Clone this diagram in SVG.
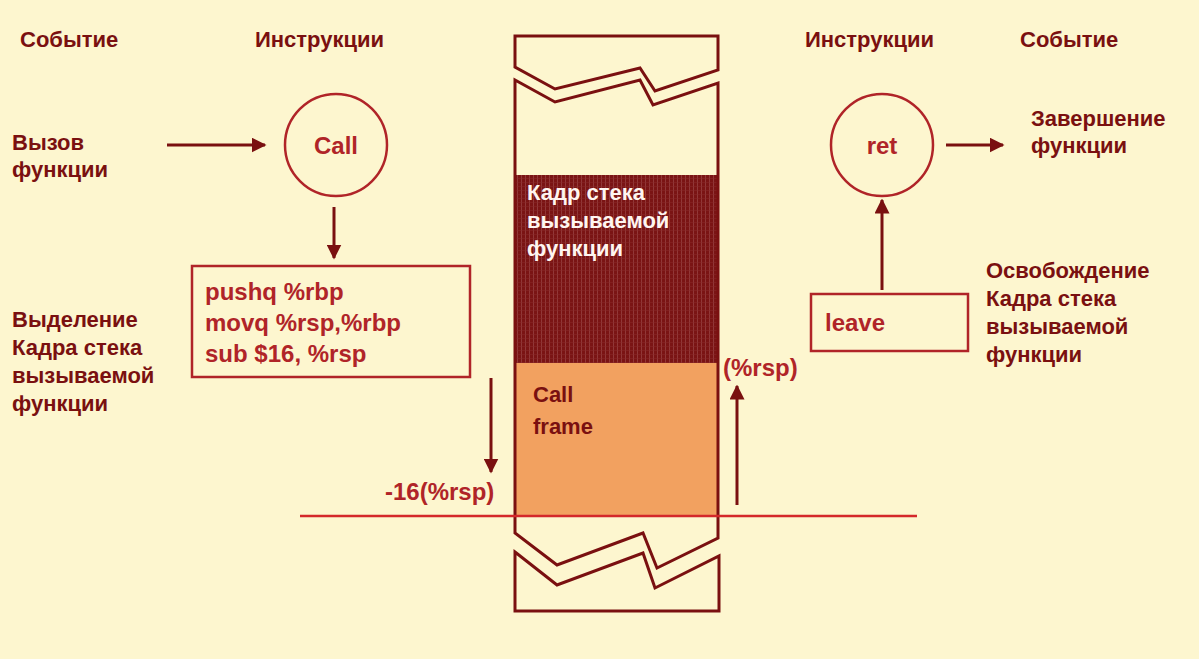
<svg xmlns="http://www.w3.org/2000/svg" width="1199" height="659" viewBox="0 0 1199 659">
<style>
.ev{font-family:"Liberation Sans",Arial,sans-serif;font-weight:bold;font-size:22px;fill:#7a1010}
.in{font-family:"Liberation Sans",Arial,sans-serif;font-weight:bold;font-size:24px;fill:#b02428}
.ln{fill:none;stroke:#7a1010;stroke-width:3}
.bx{fill:none;stroke:#b02428;stroke-width:2.5}
.ar{stroke:#7a1010;stroke-width:3;fill:none;marker-end:url(#ah)}
</style>
<defs>
<marker id="ah" viewBox="0 0 10 10" refX="9" refY="5" markerWidth="5" markerHeight="5" orient="auto" markerUnits="strokeWidth">
<path d="M0,0L10,5L0,10z" fill="#7a1010"/>
</marker>
<pattern id="hatch" width="4" height="4" patternUnits="userSpaceOnUse">
<rect width="4" height="4" fill="#7a1414"/>
<rect x="1" width="1" height="4" fill="#a05050" opacity="0.6"/>
<rect y="2" width="4" height="1" fill="#8a2a2a" opacity="0.5"/>
</pattern>
</defs>
<rect width="1199" height="659" fill="#fdf6cf"/>
<g id="headers">
<text class="ev" x="20" y="47">Событие</text>
<text class="ev" x="255" y="47">Инструкции</text>
<text class="ev" x="805" y="47">Инструкции</text>
<text class="ev" x="1020" y="47">Событие</text>
</g>
<g id="stack">
<rect x="516" y="175" width="202" height="188" fill="url(#hatch)"/>
<rect x="516" y="363" width="202" height="153" fill="#f2a160"/>
<path class="ln" d="M515,67V36H718V70L655,91L640,68L555,89Z"/>
<path class="ln" d="M515,533V80L555,102L640,80L653,105L718,83V538L657,568L643,533L557,565Z"/>
<path class="ln" d="M515,552L557,585L643,553L655,588L719,556V611H515Z"/>
<text x="527" y="200" font-family="Liberation Sans,Arial,sans-serif" font-weight="bold" font-size="22" fill="#fff5f0">Кадр стека</text>
<text x="527" y="228" font-family="Liberation Sans,Arial,sans-serif" font-weight="bold" font-size="22" fill="#fff5f0">вызываемой</text>
<text x="527" y="256" font-family="Liberation Sans,Arial,sans-serif" font-weight="bold" font-size="22" fill="#fff5f0">функции</text>
<text class="ev" x="533" y="402" font-size="25">Call</text>
<text class="ev" x="533" y="434" font-size="25">frame</text>
</g>
<g id="call-event"><text class="ev" x="12" y="150">Вызов</text><text class="ev" x="12" y="177">функции</text></g>
<g id="call"><circle cx="336" cy="145" r="51" class="bx"/><text class="in" x="336" y="154" text-anchor="middle">Call</text></g>
<g id="prologue"><rect x="192" y="266" width="278" height="111" class="bx"/>
<text class="in" x="205" y="300">pushq   %rbp</text>
<text class="in" x="205" y="331">movq  %rsp,%rbp</text>
<text class="in" x="205" y="362">sub $16, %rsp</text></g>
<g id="alloc-event"><text class="ev" x="12" y="327">Выделение</text><text class="ev" x="12" y="355">Кадра стека</text><text class="ev" x="12" y="383">вызываемой</text><text class="ev" x="12" y="411">функции</text></g>
<g id="ret"><circle cx="882" cy="145" r="51" class="bx"/><text class="in" x="882" y="154" text-anchor="middle">ret</text></g>
<g id="ret-event"><text class="ev" x="1031" y="126">Завершение</text><text class="ev" x="1031" y="153">функции</text></g>
<g id="leave"><rect x="811" y="294" width="157" height="57" class="bx"/><text class="in" x="825" y="331">leave</text></g>
<g id="free-event"><text class="ev" x="986" y="278">Освобождение</text><text class="ev" x="986" y="306">Кадра стека</text><text class="ev" x="986" y="334">вызываемой</text><text class="ev" x="986" y="362">функции</text></g>
<g id="labels">
<text class="in" x="385" y="500">-16(%rsp)</text>
<text class="in" x="723" y="376">(%rsp)</text>
</g>
<g id="connectors">
<line x1="300" y1="516" x2="917" y2="516" stroke="#d4282a" stroke-width="2.5"/>
<line class="ar" x1="167" y1="145" x2="265" y2="145"/>
<line class="ar" x1="334" y1="207" x2="334" y2="258"/>
<line class="ar" x1="946" y1="145" x2="1003" y2="145"/>
<line class="ar" x1="882" y1="290" x2="882" y2="200"/>
<line class="ar" x1="491" y1="378" x2="491" y2="472"/>
<line class="ar" x1="737" y1="505" x2="737" y2="386"/>
</g>
</svg>
